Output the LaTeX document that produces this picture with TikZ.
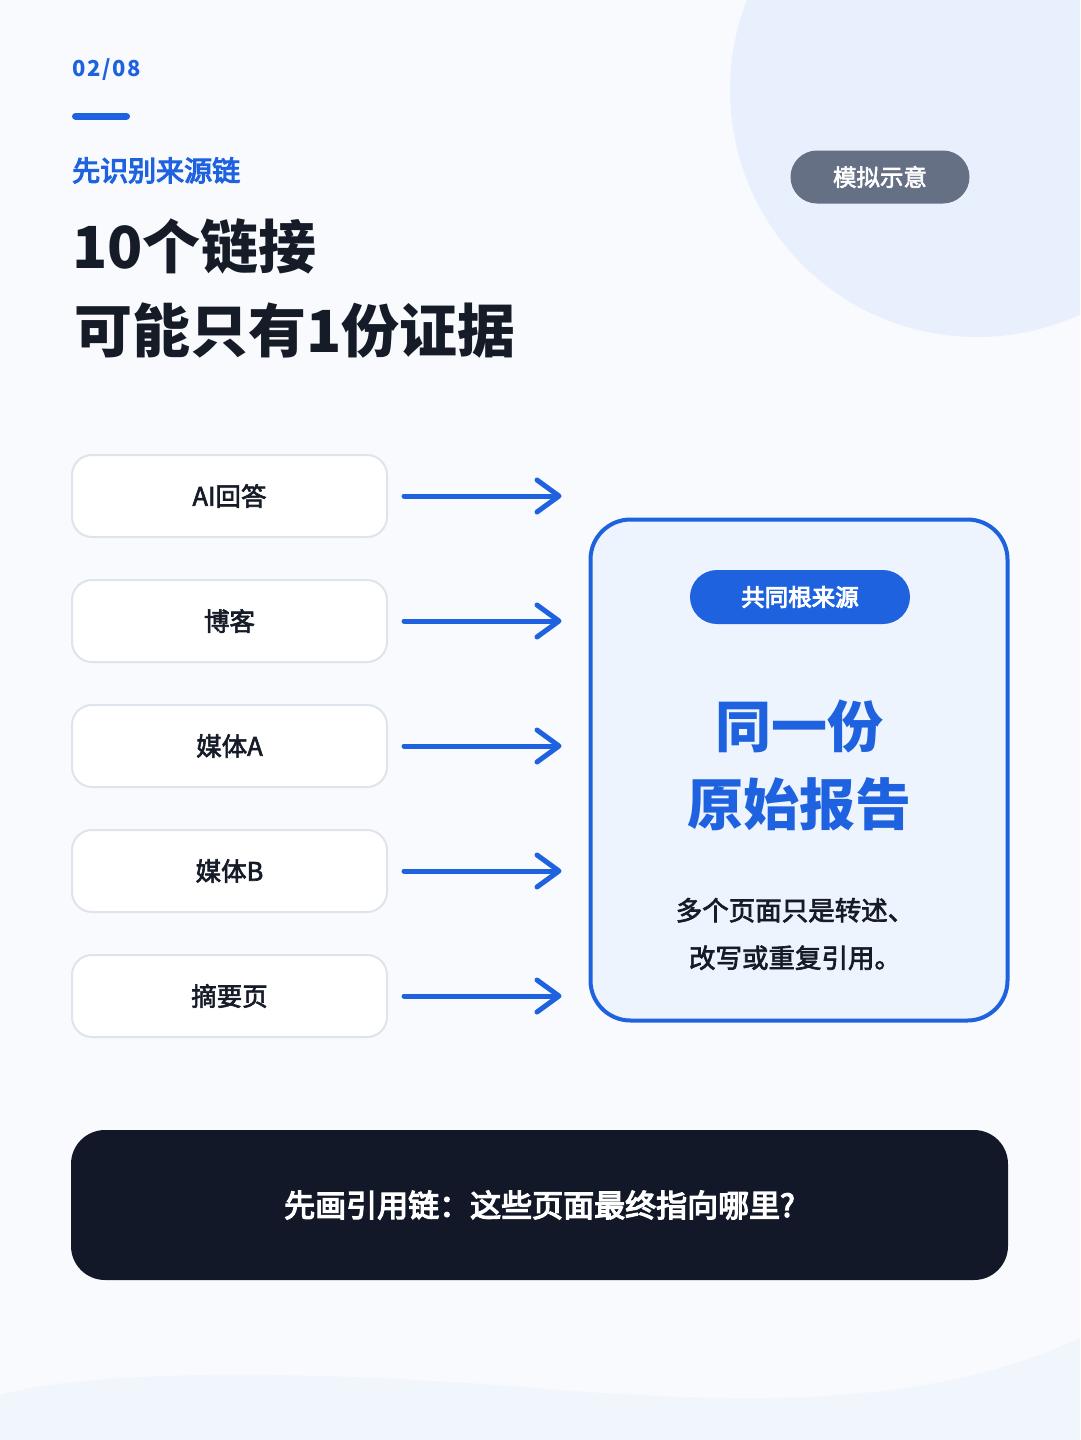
\documentclass[tikz,border=0pt]{standalone}
\usepackage{fontspec}
\setmainfont{Noto Sans CJK SC}
\newfontfamily\medfont[FakeBold=2.5]{Noto Sans CJK SC}
\newfontfamily\semifont[FakeBold=4]{Noto Sans CJK SC}
\usetikzlibrary{arrows.meta}
\definecolor{bgpage}{HTML}{F8FAFD}
\definecolor{bgcircle}{HTML}{E9F0FD}
\definecolor{bgwave}{HTML}{F1F5FC}
\definecolor{mainblue}{HTML}{1E62E0}
\definecolor{inkdark}{HTML}{161B28}
\definecolor{boxline}{HTML}{DFE4EC}
\definecolor{rootfill}{HTML}{EEF4FE}
\definecolor{badgegray}{HTML}{667085}
\definecolor{barfill}{HTML}{121827}
\newcommand{\fs}[1]{\fontsize{#1}{#1}\selectfont}
\tikzstyle{srcbox} = [draw=boxline, line width=2pt, fill=white, rounded corners=20pt,
	minimum width=315pt, minimum height=82pt, text=inkdark, font=\medfont\fs{25.5}]
\tikzstyle{flow} = [draw=mainblue, line width=5pt, line cap=round,
	-{Straight Barb[length=22pt,width=32pt,round]}, shorten <=16pt, shorten >=27pt]
\tikzstyle{pill} = [rounded corners=27pt, text=white, inner sep=0pt]

\begin{document}
\begin{tikzpicture}[x=1pt, y=-1pt]
			\useasboundingbox (0,0) rectangle (1080,1440);
			\fill[bgpage] (0,0) rectangle (1080,1440);
			\begin{scope}
			\clip (0,0) rectangle (1080,1440);
			\fill[bgcircle] (977,90) circle (247);
			\fill[bgwave] (0,1395) .. controls (90,1370) and (300,1368) .. (560,1390)
				.. controls (800,1408) and (950,1398) .. (1080,1338) -- (1080,1440) -- (0,1440) -- cycle;
			\end{scope}
			
			\node [anchor=base west, inner sep=0pt, text=mainblue, font=\fs{22}\bfseries\addfontfeature{LetterSpace=8}] (pageno) at (72,76.5) {02/08};
			\draw [mainblue, line width=7pt, line cap=round] (75.5,116) -- (126.5,116);
			\node [anchor=base west, inner sep=0pt, text=mainblue, font=\semifont\fs{28}] (kicker) at (72,181) {先识别来源链};
			\node [anchor=base west, inner sep=0pt, text=inkdark, font=\fs{58}\bfseries] (title1) at (72,268) {10个链接};
			\node [anchor=base west, inner sep=0pt, text=inkdark, font=\fs{58}\bfseries] (title2) at (74,352) {可能只有1份证据};
			
			\node [pill, fill=badgegray, minimum width=179pt, minimum height=53pt, rounded corners=26.5pt, font=\medfont\fs{23.5}] (badge) at (880,177) {模拟示意};
			
			\node [draw=mainblue, line width=4pt, fill=rootfill, rounded corners=40pt,
				minimum width=417pt, minimum height=501pt] (root) at (799,770) {};
			\node [pill, fill=mainblue, minimum width=220pt, minimum height=54pt, font=\semifont\fs{23.5}] (rootlabel) at (800,597) {共同根来源};
			\node [text=mainblue, font=\fs{56}\bfseries, align=center, inner sep=0pt] (rootname) at (799,765)
				{同一份\\[22pt]原始报告};
			\node [text=inkdark, font=\medfont\fs{26.5}, align=center, inner sep=0pt] (rootnote) at (795,934)
				{多个页面只是转述、\\[21pt]改写或重复引用。};
			
			\foreach \t [count=\i] in {AI回答,博客,媒体A,媒体B,摘要页}{
				\node [srcbox] (S\i) at ({229.5},{371+125*\i}) {\t};
				\draw [flow] (S\i.east) -- (S\i.east -| root.west);
			}
			
			\node [fill=barfill, rounded corners=34pt, minimum width=937pt, minimum height=150pt,
				text=white, font=\semifont\fs{31}] (question) at (539.5,1205) {先画引用链：这些页面最终指向哪里?};
			
			\end{tikzpicture}
\end{document}
